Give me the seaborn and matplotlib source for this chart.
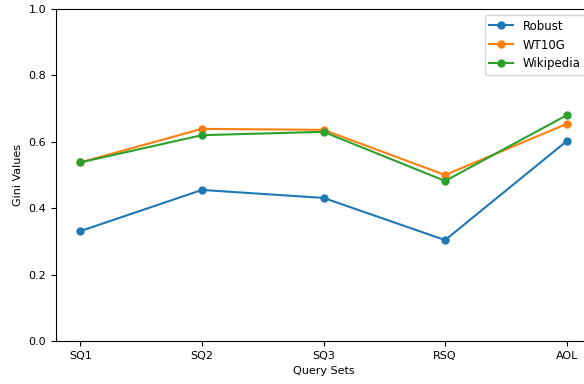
import pandas as pd
import matplotlib
matplotlib.use("Agg")
import matplotlib.pyplot as plt
import seaborn as sns

# Data
query_sets = ["SQ1", "SQ2", "SQ3", "RSQ", "AOL"]
robust = [0.331, 0.455, 0.431, 0.304, 0.602]
wt10g = [0.538, 0.639, 0.636, 0.500, 0.654]
wikipedia = [0.538, 0.620, 0.630, 0.482, 0.680]

df = pd.DataFrame({
    "Query Sets": query_sets * 3,
    "Gini Values": robust + wt10g + wikipedia,
    "Collection": ["Robust"] * 5 + ["WT10G"] * 5 + ["Wikipedia"] * 5,
})

plt.rcParams["font.size"] = 8

fig = plt.figure(figsize=(5.84, 3.84), dpi=100)
ax = fig.add_axes([56 / 584, 43 / 384, 535 / 584, 332 / 384])

sns.lineplot(data=df, x="Query Sets", y="Gini Values", hue="Collection",
             marker="o", markersize=6, markeredgewidth=0, linewidth=1.5,
             palette=["#1f77b4", "#ff7f0e", "#2ca02c"], sort=False, ax=ax)

ax.set_ylim(0, 1.0)
ax.set_xlabel("Query Sets", fontsize=8)
ax.set_ylabel("Gini Values", fontsize=8)
ax.tick_params(labelsize=8)
ax.legend(loc="upper right", fontsize=8.5, title=None)

fig.savefig("out.png", dpi=100)
